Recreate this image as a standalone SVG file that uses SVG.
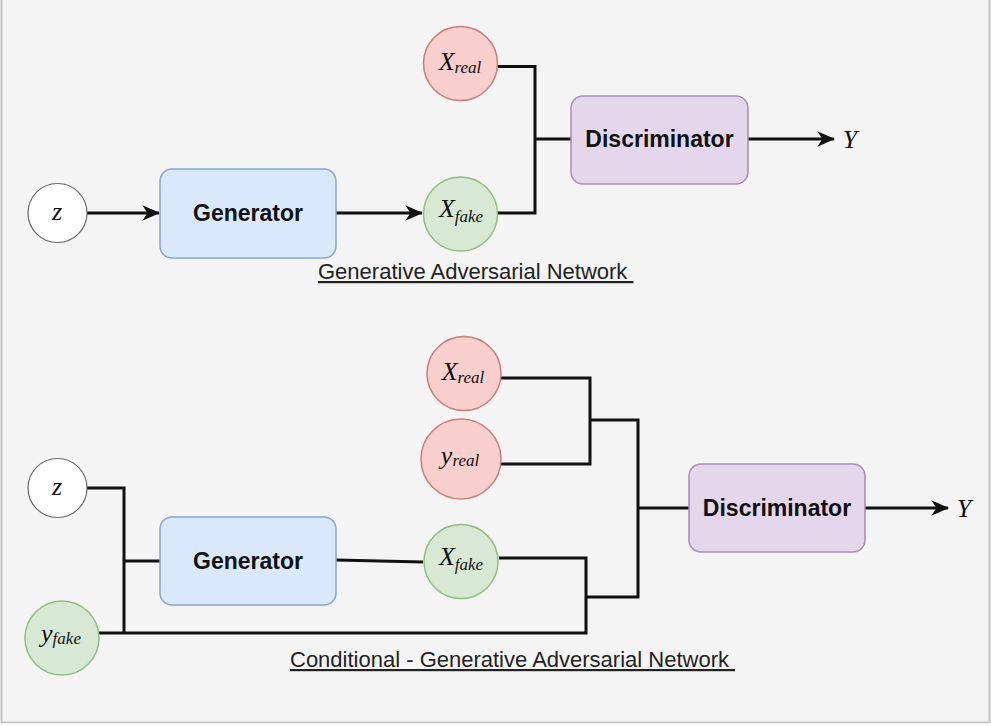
<svg xmlns="http://www.w3.org/2000/svg" width="991" height="726" viewBox="0 0 991 726">
  <style>
    .box-text { font-family: "Liberation Sans", Arial, sans-serif; font-weight: bold; font-size: 23px; fill: #111; text-anchor: middle; }
    .math { font-family: "Liberation Serif", "Times New Roman", serif; font-style: italic; font-size: 26px; fill: #111; text-anchor: middle; }
    .sub { font-size: 17px; }
    .caption { font-family: "Liberation Sans", Arial, sans-serif; font-size: 22px; fill: #222; text-decoration: underline; }
    .gen { fill: #dae8fc; stroke: #86a4d2; stroke-width: 1.5; }
    .disc { fill: #e4d7eb; stroke: #a88bb8; stroke-width: 1.5; }
    .real { fill: #f8cfcd; stroke: #c77f7c; stroke-width: 1.5; }
    .fake { fill: #d7e9d5; stroke: #93bd7f; stroke-width: 1.5; }
    .plain { fill: #ffffff; stroke: #666666; stroke-width: 1.2; }
    .wire { fill: none; stroke: #111; stroke-width: 3; }
  </style>
  <defs>
    <marker id="arrow" viewBox="0 0 14 12" refX="13" refY="6" markerWidth="6" markerHeight="5.2" markerUnits="strokeWidth" orient="auto">
      <path d="M0,0 L14,6 L0,12 L4,6 z" fill="#111"/>
    </marker>
  </defs>

  <rect x="0" y="0" width="991" height="726" fill="#f4f4f4"/>
  <path d="M1.5,0 V722.5 H989.5 V0" fill="none" stroke="#c4c4c4" stroke-width="2"/>
  <rect x="0" y="723.5" width="991" height="3" fill="#ffffff"/>

  <g id="connectors">
    <!-- top GAN -->
    <line class="wire" x1="87" y1="213" x2="159" y2="213" marker-end="url(#arrow)"/>
    <line class="wire" x1="336" y1="213" x2="422" y2="213" marker-end="url(#arrow)"/>
    <path class="wire" d="M498,66.5 H535 V213 H498"/>
    <line class="wire" x1="535" y1="139" x2="571" y2="139"/>
    <line class="wire" x1="748" y1="139" x2="834" y2="139" marker-end="url(#arrow)"/>
    <!-- bottom CGAN -->
    <path class="wire" d="M87,488 H124 V633"/>
    <line class="wire" x1="124" y1="561" x2="160" y2="561"/>
    <path class="wire" d="M99,633 H586 V558 H499"/>
    <line class="wire" x1="336" y1="560" x2="423" y2="562"/>
    <path class="wire" d="M501,378 H590 V464 H501"/>
    <path class="wire" d="M590,420 H638 V597 H586"/>
    <line class="wire" x1="638" y1="508" x2="689" y2="508"/>
    <line class="wire" x1="865" y1="508" x2="948" y2="508" marker-end="url(#arrow)"/>
  </g>

  <!-- Top: Generative Adversarial Network -->
  <g id="z1">
    <circle class="plain" cx="57.5" cy="213" r="29.5"/>
    <text class="math" x="57" y="220" font-size="22">z</text>
  </g>
  <g id="generator1">
    <rect class="gen" x="160" y="169" width="176" height="89" rx="12"/>
    <text class="box-text" x="248" y="221">Generator</text>
  </g>
  <g id="xfake1">
    <circle class="fake" cx="460.5" cy="214" r="37"/>
    <text class="math" x="461" y="217">X<tspan class="sub" dy="5">fake</tspan></text>
  </g>
  <g id="xreal1">
    <circle class="real" cx="460.5" cy="63.5" r="37"/>
    <text class="math" x="460" y="70">X<tspan class="sub" dy="3">real</tspan></text>
  </g>
  <g id="discriminator1">
    <rect class="disc" x="571" y="96" width="177" height="88" rx="12"/>
    <text class="box-text" x="659.5" y="147">Discriminator</text>
  </g>
  <g id="y1">
    <text class="math" x="850" y="148">Y</text>
  </g>
  <text class="caption" x="318" y="279" xml:space="preserve">Generative Adversarial Network </text>

  <!-- Bottom: Conditional GAN -->
  <g id="z2">
    <circle class="plain" cx="57.5" cy="488" r="29.5"/>
    <text class="math" x="57" y="495" font-size="22">z</text>
  </g>
  <g id="yfake2">
    <circle class="fake" cx="62" cy="638" r="37"/>
    <text class="math" x="61" y="642">y<tspan class="sub" dy="2">fake</tspan></text>
  </g>
  <g id="generator2">
    <rect class="gen" x="160" y="517" width="176" height="88" rx="12"/>
    <text class="box-text" x="248" y="569">Generator</text>
  </g>
  <g id="xfake2">
    <circle class="fake" cx="461" cy="561.5" r="37"/>
    <text class="math" x="461" y="565">X<tspan class="sub" dy="5">fake</tspan></text>
  </g>
  <g id="xreal2">
    <circle class="real" cx="464" cy="373.5" r="37"/>
    <text class="math" x="463" y="380">X<tspan class="sub" dy="3">real</tspan></text>
  </g>
  <g id="yreal2">
    <circle class="real" cx="461" cy="459" r="40"/>
    <text class="math" x="460" y="464">y<tspan class="sub" dy="2">real</tspan></text>
  </g>
  <g id="discriminator2">
    <rect class="disc" x="689" y="464" width="176" height="88" rx="12"/>
    <text class="box-text" x="777" y="516">Discriminator</text>
  </g>
  <g id="y2">
    <text class="math" x="964" y="517">Y</text>
  </g>
  <text class="caption" x="290" y="667" xml:space="preserve">Conditional - Generative Adversarial Network </text>
</svg>
